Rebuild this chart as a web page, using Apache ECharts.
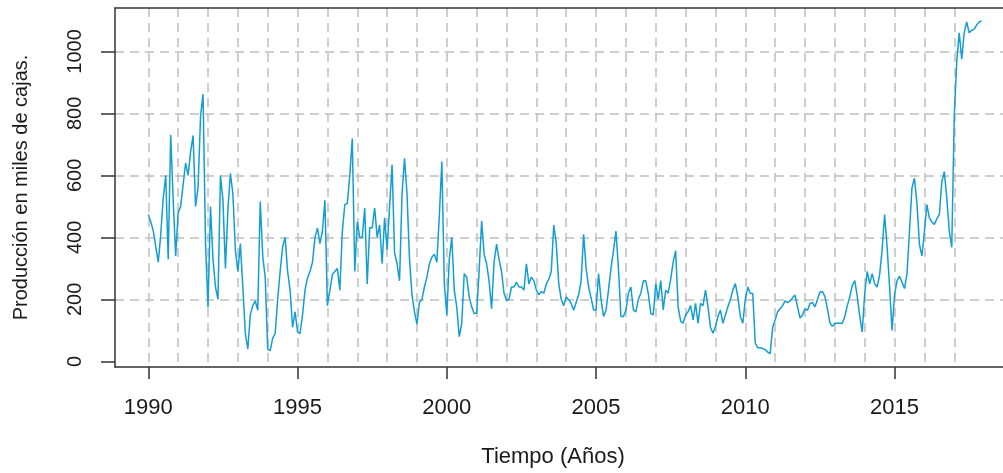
<!DOCTYPE html>
<html>
<head>
<meta charset="utf-8">
<script src="https://cdn.jsdelivr.net/npm/echarts@6/dist/echarts.min.js"></script>
<style>
html,body{margin:0;padding:0;background:#fff;}
#chart{width:1003px;height:473px;}
</style>
</head>
<body>
<div id="chart"></div>
<script>
// Monthly production (thousands of boxes), Jan..Dec of each year
const y1990 = [474, 450, 421, 370, 320, 410, 527, 600, 330, 730, 520, 340];
const y1991 = [480, 500, 570, 640, 600, 676, 729, 500, 560, 790, 862, 380];
const y1992 = [175, 500, 330, 240, 200, 600, 520, 300, 490, 607, 540, 360];
const y1993 = [290, 380, 240, 90, 40, 150, 180, 195, 165, 516, 340, 270];
const y1994 = [40, 35, 75, 90, 200, 290, 370, 400, 290, 230, 110, 160];
const y1995 = [95, 90, 150, 230, 270, 290, 320, 400, 430, 380, 420, 520];
const y1996 = [180, 230, 280, 290, 300, 230, 420, 506, 510, 600, 719, 290];
const y1997 = [450, 400, 400, 495, 250, 431, 431, 495, 400, 440, 315, 463];
const y1998 = [360, 500, 634, 350, 315, 260, 540, 655, 540, 330, 215, 160];
const y1999 = [120, 190, 200, 240, 272, 315, 336, 346, 320, 470, 645, 251];
const y2000 = [150, 330, 400, 230, 176, 80, 123, 283, 272, 208, 176, 155];
const y2001 = [155, 293, 453, 346, 315, 260, 170, 320, 378, 330, 290, 220];
const y2002 = [197, 200, 240, 240, 255, 240, 240, 230, 315, 250, 272, 260];
const y2003 = [230, 215, 225, 220, 250, 265, 290, 440, 380, 251, 200, 180];
const y2004 = [208, 200, 187, 165, 190, 215, 260, 410, 300, 240, 205, 166];
const y2005 = [165, 283, 200, 145, 165, 230, 300, 357, 420, 300, 145, 145];
const y2006 = [165, 220, 240, 166, 160, 200, 220, 260, 260, 219, 155, 150];
const y2007 = [251, 200, 261, 166, 230, 220, 265, 320, 357, 176, 130, 123];
const y2008 = [150, 160, 180, 134, 187, 123, 187, 180, 230, 176, 110, 91];
const y2009 = [113, 145, 166, 123, 150, 176, 200, 230, 251, 208, 145, 123];
const y2010 = [200, 240, 219, 219, 60, 44, 44, 42, 38, 30, 25, 110];
const y2011 = [134, 160, 170, 180, 195, 190, 195, 205, 214, 176, 140, 150];
const y2012 = [170, 165, 187, 190, 176, 200, 224, 225, 210, 170, 125, 113];
const y2013 = [123, 123, 123, 123, 145, 180, 208, 245, 261, 210, 145, 95];
const y2014 = [220, 290, 250, 283, 251, 240, 280, 360, 474, 370, 240, 100];
const y2015 = [215, 261, 275, 255, 235, 283, 420, 560, 591, 510, 378, 340];
const y2016 = [420, 506, 463, 450, 442, 460, 474, 580, 612, 527, 420, 368];
const y2017 = [790, 968, 1060, 975, 1060, 1095, 1060, 1068, 1072, 1085, 1095, 1098];

const startYear = 1990;
const yearlyValues = [y1990, y1991, y1992, y1993, y1994, y1995, y1996, y1997, y1998, y1999,
  y2000, y2001, y2002, y2003, y2004, y2005, y2006, y2007, y2008, y2009,
  y2010, y2011, y2012, y2013, y2014, y2015, y2016, y2017];

const xTickLabels = [1990, 1995, 2000, 2005, 2010, 2015];
const xGridYears = [];
for (let y = 1990; y <= 2017; y++) xGridYears.push(y);
const yTickLabels = [0, 200, 400, 600, 800, 1000];
const yGridValues = [200, 400, 600, 800, 1000];

const seriesData = [];
yearlyValues.forEach((arr, i) => {
  arr.forEach((v, m) => seriesData.push([startYear + i + m / 12, v]));
});

const X_MIN = 1988.884, X_MAX = 2018.633;
const Y_MIN = -18, Y_MAX = 1140;
const textColor = '#1a1a1a';
const font = 'Liberation Sans, Arial, sans-serif';
const gridLine = { type: [9, 6], color: '#bfbfbf', width: 1.5 };
const boxLine = { color: '#333333', width: 1.5 };

const chart = echarts.init(document.getElementById('chart'), null, { renderer: 'canvas' });
chart.setOption({
  animation: false,
  backgroundColor: '#ffffff',
  textStyle: { fontFamily: font },
  grid: { left: 115, top: 8, right: 0, height: 363, show: false },
  xAxis: [
    { type: 'value', min: X_MIN, max: X_MAX, position: 'bottom',
      axisLine: { show: true, onZero: false, lineStyle: boxLine },
      axisTick: { show: true, length: 12, customValues: xTickLabels, lineStyle: boxLine },
      axisLabel: { customValues: xTickLabels, formatter: v => String(Math.round(v)), fontSize: 22,
                   color: textColor, margin: 30, fontFamily: font },
      splitLine: { show: false },
      name: 'Tiempo (Años)', nameLocation: 'middle', nameGap: 79,
      nameTextStyle: { fontSize: 22, color: textColor, fontFamily: font, padding: [0, 12, 0, 0] } },
    { type: 'value', min: X_MIN, max: X_MAX, position: 'top',
      axisLine: { show: true, onZero: false, lineStyle: boxLine }, axisLabel: { show: false },
      axisTick: { show: false, customValues: xGridYears },
      splitLine: { show: true, lineStyle: gridLine } }
  ],
  yAxis: [
    { type: 'value', min: Y_MIN, max: Y_MAX, position: 'left',
      axisLine: { show: true, onZero: false, lineStyle: boxLine },
      axisTick: { show: true, length: 14, customValues: yTickLabels, lineStyle: boxLine },
      axisLabel: { customValues: yTickLabels, rotate: 90, fontSize: 20, color: textColor,
                   margin: 30, fontFamily: font, formatter: v => String(Math.round(v)) },
      splitLine: { show: false },
      name: 'Producción en miles de cajas.', nameLocation: 'middle', nameGap: 84,
      nameTextStyle: { fontSize: 20, color: textColor, fontFamily: font } },
    { type: 'value', min: Y_MIN, max: Y_MAX, position: 'right',
      axisLine: { show: false }, axisLabel: { show: false },
      axisTick: { show: false, customValues: yGridValues },
      splitLine: { show: true, lineStyle: gridLine } }
  ],
  series: [{
    type: 'line', data: seriesData, xAxisIndex: 0, yAxisIndex: 0,
    showSymbol: false, symbol: 'none',
    lineStyle: { color: '#129ed3', width: 1.5 },
    z: 5
  }]
});
</script>
</body>
</html>
